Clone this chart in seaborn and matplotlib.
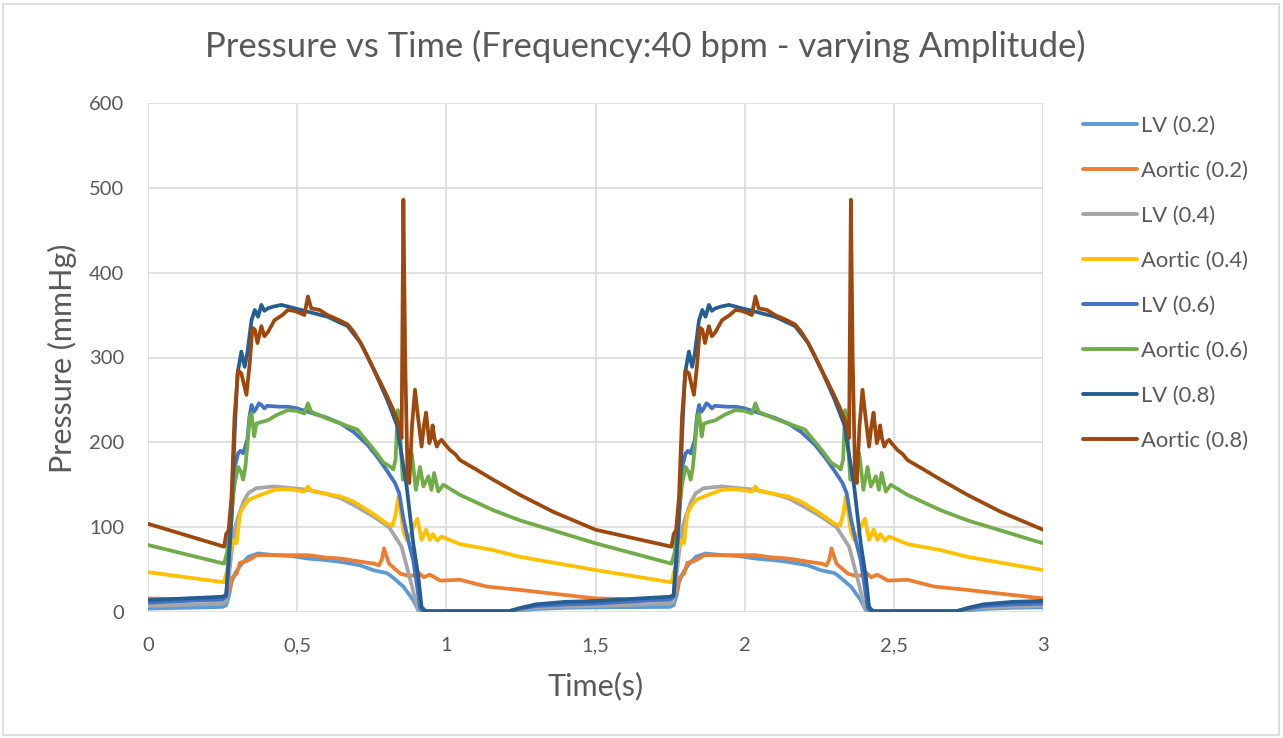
import numpy as np
import pandas as pd
import matplotlib
matplotlib.use("Agg")
import matplotlib.pyplot as plt
import seaborn as sns
from matplotlib.patches import Rectangle
from matplotlib.lines import Line2D

# ---------------- data (one 1.5 s cycle) ----------------
PERIOD = 1.5

lv02_t = [0, 0.25, 0.262, 0.272, 0.28, 0.291, 0.31, 0.336, 0.369, 0.424, 0.48, 0.536, 0.6, 0.647,
          0.711, 0.758, 0.8, 0.813, 0.856, 0.889, 0.906, 0.915, 1.21, 1.25, 1.3, 1.4, 1.5]
lv02_p = [4, 6, 8, 20, 35, 45, 55, 65, 69, 67, 66, 63, 61, 59,
          55, 49, 46, 43, 30, 14, 2, 0, 0, 2, 3.5, 5, 5.5]

ao02_t = [0, 0.255, 0.265, 0.274, 0.28, 0.297, 0.308, 0.33, 0.347, 0.364, 0.424, 0.48, 0.536, 0.6,
          0.647, 0.7, 0.758, 0.774, 0.784, 0.791, 0.8, 0.808, 0.83, 0.847, 0.87, 0.891, 0.905,
          0.924, 0.945, 0.98, 1.046, 1.135, 1.247, 1.5]
ao02_p = [16, 14, 20, 26, 40, 45, 58, 60, 63, 67, 67, 67, 67, 64,
          63, 60, 57, 55, 62, 75, 65, 57, 50, 45, 43, 43, 47,
          41, 44, 37, 38, 30, 26, 16]

lv04_t = [0, 0.25, 0.262, 0.28, 0.292, 0.302, 0.32, 0.336, 0.363, 0.424, 0.48, 0.536, 0.6, 0.647,
          0.7, 0.758, 0.808, 0.85, 0.88, 0.902, 0.913, 1.21, 1.25, 1.3, 1.4, 1.5]
lv04_p = [7, 10, 12, 70, 100, 112, 130, 140, 146, 148, 146, 144, 139, 134,
          124, 112, 100, 77, 37, 6, 0, 0.5, 3, 5, 6.5, 7]

ao04_t = [0, 0.255, 0.265, 0.275, 0.286, 0.297, 0.308, 0.32, 0.336, 0.363, 0.4, 0.424, 0.47,
          0.524, 0.536, 0.547, 0.6, 0.647, 0.69, 0.736, 0.77, 0.802, 0.82, 0.83, 0.839, 0.848,
          0.856, 0.867, 0.878, 0.895, 0.903, 0.917, 0.932, 0.945, 0.955, 0.97, 0.984, 1.046,
          1.157, 1.247, 1.5]
ao04_p = [47, 35, 50, 70, 85, 81, 116, 124, 132, 136, 141, 144, 145,
          142, 148, 143, 139, 136, 130, 120, 112, 104, 102, 115, 136, 115,
          95, 85, 90, 105, 110, 85, 97, 85, 92, 84, 89, 80,
          73, 65, 49.5]

lv06_t = [0, 0.25, 0.262, 0.275, 0.29, 0.302, 0.31, 0.319, 0.333, 0.34, 0.347, 0.355, 0.363,
          0.372, 0.38, 0.39, 0.4, 0.44, 0.469, 0.5, 0.536, 0.6, 0.647, 0.69, 0.736, 0.77, 0.8,
          0.828, 0.842, 0.856, 0.872, 0.889, 0.902, 0.912, 0.92, 1.21, 1.25, 1.3, 1.4, 1.5]
lv06_p = [11, 15, 18, 80, 170, 187, 190, 187, 203, 230, 244, 236, 240,
          246, 244, 240, 243, 242, 242, 240, 236, 229, 222, 212, 197, 182, 167,
          152, 140, 110, 85, 61, 30, 5, 1, 1, 4, 7, 9, 10]

ao06_t = [0, 0.255, 0.265, 0.275, 0.29, 0.302, 0.312, 0.319, 0.326, 0.333, 0.341, 0.347, 0.356,
          0.363, 0.38, 0.402, 0.43, 0.469, 0.5, 0.524, 0.536, 0.547, 0.6, 0.647, 0.702, 0.758,
          0.79, 0.813, 0.822, 0.83, 0.837, 0.843, 0.848, 0.854, 0.862, 0.872, 0.884, 0.898,
          0.912, 0.923, 0.94, 0.95, 0.959, 0.973, 0.99, 1.046, 1.157, 1.247, 1.5]
ao06_p = [79, 57, 70, 100, 150, 171, 165, 156, 170, 195, 230, 234, 207,
          222, 224, 226, 232, 238, 237, 234, 246, 236, 228, 222, 215, 191,
          176, 171, 168, 180, 238, 230, 190, 156, 160, 175, 187, 144,
          171, 148, 160, 144, 164, 142, 150, 138, 120, 108, 81]

lv08_t = [0, 0.25, 0.262, 0.27, 0.28, 0.291, 0.3, 0.313, 0.324, 0.333, 0.347, 0.358, 0.369, 0.38,
          0.39, 0.402, 0.42, 0.447, 0.47, 0.491, 0.536, 0.602, 0.669, 0.713, 0.758, 0.802,
          0.836, 0.842, 0.867, 0.889, 0.906, 0.917, 0.93, 1.21, 1.25, 1.3, 1.4, 1.5]
lv08_p = [14, 18, 20, 60, 116, 215, 281, 307, 289, 305, 344, 356, 348, 362,
          355, 358, 360, 362, 360, 358, 354, 348, 337, 317, 285, 250,
          219, 203, 148, 81, 42, 6, 1, 1, 5, 9, 12, 13]

ao08_t = [0, 0.255, 0.262, 0.27, 0.28, 0.29, 0.302, 0.313, 0.322, 0.33, 0.341, 0.35, 0.358,
          0.367, 0.38, 0.39, 0.402, 0.424, 0.45, 0.469, 0.49, 0.513, 0.524, 0.536, 0.547,
          0.575, 0.602, 0.635, 0.669, 0.69, 0.713, 0.735, 0.758, 0.78, 0.802, 0.82, 0.836,
          0.845, 0.85, 0.856, 0.862, 0.87, 0.876, 0.885, 0.895, 0.905, 0.917, 0.925, 0.932,
          0.938, 0.943, 0.948, 0.954, 0.96, 0.968, 0.975, 0.984, 0.995, 1.012, 1.03, 1.046,
          1.1, 1.157, 1.247, 1.359, 1.5]
ao08_p = [104, 77, 92, 96, 136, 230, 285, 281, 268, 256, 293, 335, 333,
          317, 337, 325, 330, 344, 350, 356, 355, 352, 350, 372, 358,
          356, 350, 345, 339, 330, 317, 302, 285, 270, 254, 240, 226,
          215, 205, 486, 300, 160, 152, 220, 262, 230, 195, 220, 235,
          215, 199, 205, 220, 205, 195, 200, 203, 198, 191, 186, 179,
          168, 156, 138, 118, 97]

series_names = ["LV (0.2)", "Aortic (0.2)", "LV (0.4)", "Aortic (0.4)",
                "LV (0.6)", "Aortic (0.6)", "LV (0.8)", "Aortic (0.8)"]
series_colors = ["#5B9BD5", "#ED7D31", "#A5A5A5", "#FFC000",
                 "#4472C4", "#70AD47", "#255E91", "#9E480E"]
series_data = [(lv02_t, lv02_p), (ao02_t, ao02_p), (lv04_t, lv04_p), (ao04_t, ao04_p),
               (lv06_t, lv06_p), (ao06_t, ao06_p), (lv08_t, lv08_p), (ao08_t, ao08_p)]

x_ticks = [0, 0.5, 1, 1.5, 2, 2.5, 3]
x_tick_labels = ["0", "0,5", "1", "1,5", "2", "2,5", "3"]
y_ticks = [0, 100, 200, 300, 400, 500, 600]

# two cycles: the recorded cycle and its repetition 1.5 s later
rows = []
for name, (tt, pp) in zip(series_names, series_data):
    tt = list(tt)
    pp = list(pp)
    for t, p in zip(tt, pp):
        rows.append((name, t, p))
    for t, p in zip(tt[1:], pp[1:]):
        rows.append((name, t + PERIOD, p))
df = pd.DataFrame(rows, columns=["series", "time", "pressure"])

# ---------------- drawing ----------------
sns.set_theme(style="white")
plt.rcParams["font.family"] = ["Lato", "DejaVu Sans"]
TXT = "#595959"
GRID = "#D9D9D9"

W, H = 1283, 738
fig = plt.figure(figsize=(W / 100, H / 100), dpi=100)
fig.patch.set_facecolor("white")
ax = fig.add_axes([148 / W, 1 - 612 / H, (1043 - 148) / W, (612 - 103) / H])

sns.lineplot(data=df, x="time", y="pressure", hue="series", hue_order=series_names,
             palette=dict(zip(series_names, series_colors)), estimator=None, sort=False,
             linewidth=2.7, ax=ax, legend=False)

ax.set_xlim(0, 3)
ax.set_ylim(0, 600)
ax.set_xticks(x_ticks)
ax.set_xticklabels(x_tick_labels)
ax.set_yticks(y_ticks)
ax.grid(True, color=GRID, linewidth=1.1)
ax.set_axisbelow(True)
for s in ax.spines.values():
    s.set_visible(False)
ax.tick_params(axis="both", length=0, labelsize=14.5, labelcolor=TXT)
ax.tick_params(axis="y", pad=17)
ax.tick_params(axis="x", pad=18)
ax.set_xlabel("")
ax.set_ylabel("")

fig.text(645 / W, 1 - 57 / H, "Pressure vs Time (Frequency:40 bpm - varying Amplitude)",
         ha="center", va="baseline", fontsize=24.9, color=TXT)
fig.text(595.5 / W, 1 - 695 / H, "Time(s)", ha="center", va="baseline", fontsize=22, color=TXT)
fig.text(72 / W, 1 - 358 / H, "Pressure (mmHg)", rotation=90, rotation_mode="anchor",
         ha="center", va="baseline", fontsize=22, color=TXT)

handles = [Line2D([0], [0], color=c, lw=2.8) for c in series_colors]
leg = fig.legend(handles, series_names, loc="upper left",
                 bbox_to_anchor=(1083 / W, 1 - 116 / H), frameon=False, fontsize=15.8,
                 handlelength=2.45, handletextpad=0.2, labelspacing=1.14,
                 borderpad=0, borderaxespad=0)
for t in leg.get_texts():
    t.set_color(TXT)

fig.add_artist(Rectangle((3 / W, 3 / H), (W - 7) / W, (H - 7) / H, transform=fig.transFigure,
                         fill=False, edgecolor=GRID, linewidth=1.2))

fig.savefig("out.png", dpi=100, facecolor="white")
